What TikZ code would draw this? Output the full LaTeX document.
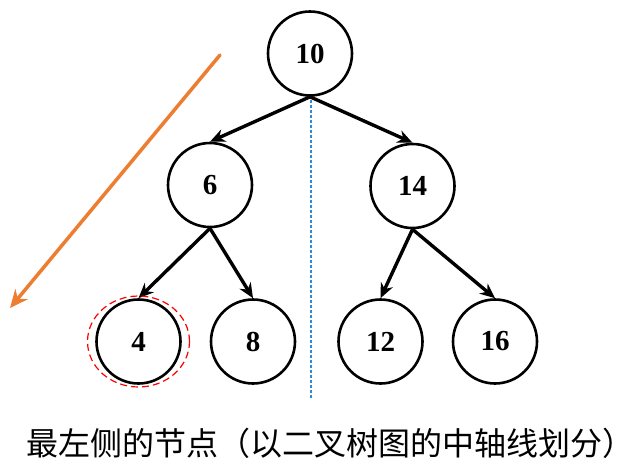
\documentclass[tikz,border=0pt]{standalone}
\usepackage{fontspec}
\setmainfont{Liberation Serif}
\newfontfamily\cjk{Noto Sans CJK SC}
\usetikzlibrary{arrows.meta,shapes.geometric}
\definecolor{orangeA}{HTML}{ED7D31}
\definecolor{blueA}{HTML}{2E8BD8}
\begin{document}
\begin{tikzpicture}[x=1pt,y=-1pt,
  tnode/.style={circle,draw=black,line width=2.6pt,minimum size=84pt,inner sep=0pt,font=\fontsize{29}{32}\selectfont\bfseries},
  tedge/.style={line width=3.4pt,-{Stealth[length=15pt,width=13pt]}}]
\useasboundingbox (0,0) rectangle (643,475);
\node[tnode] (n10) at (310,53.5) {10};
\node[tnode] (n6) at (210,185) {6};
\node[tnode] (n14) at (412.5,186) {14};
\node[tnode] (n4) at (138.5,341.5) {4};
\node[tnode] (n8) at (253,341.5) {8};
\node[tnode] (n12) at (380.5,341.5) {12};
\node[tnode] (n16) at (495,341.5) {16};
\draw[tedge] (n10.south) -- (n6.north);
\draw[tedge] (n10.south) -- (n14.north);
\draw[tedge] (n6.south) -- (n4.north);
\draw[tedge] (n6.south) -- (n8.north);
\draw[tedge] (n14.south) -- (n12.north);
\draw[tedge] (n14.south) -- (n16.north);
\node[draw=red,line width=1.2pt,dash pattern=on 7pt off 4pt,ellipse,minimum width=102pt,minimum height=91pt,inner sep=0pt] (hl) at (138.5,341.5) {};
\coordinate (ax1) at (311,100);
\coordinate (ax2) at (311,398);
\draw[blueA,line width=2.2pt,dash pattern=on 2.5pt off 2.5pt] (ax1) -- (ax2);
\coordinate (o1) at (220,55);
\coordinate (o2) at (10,308);
\draw[orangeA,line width=3.5pt,line cap=round,-{Stealth[length=18pt,width=16pt]}] (o1) -- (o2);
\node[font=\cjk\fontsize{32}{36}\selectfont] (cap) at (331,443) {最左侧的节点（以二叉树图的中轴线划分）};
\end{tikzpicture}
\end{document}
